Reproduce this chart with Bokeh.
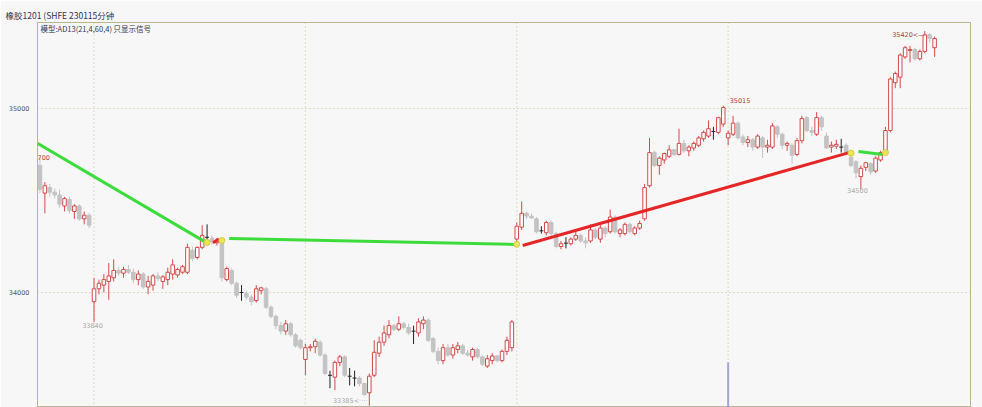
from bokeh.plotting import figure
from bokeh.models import Span, Label, FixedTicker, ColumnDataSource, Range1d
from bokeh.embed import file_html
from bokeh.resources import INLINE

# ---------------- data ----------------
opens = [
    34690, 34540, 34570, 34545, 34530, 34470, 34505, 34440, 34470, 34400,
    34420, 33950, 34020, 34040, 34060, 34080, 34120, 34105, 34125, 34110,
    34070, 34100, 34030, 34040, 34090, 34060, 34070, 34100, 34095, 34110,
    34110, 34230, 34190, 34245, 34300, 34295, 34270, 34280, 34070, 34120,
    34050, 34000, 33995, 33975, 33956, 34010, 34020, 33920, 33870, 33820,
    33790, 33830, 33770, 33740, 33636, 33700, 33705, 33730, 33660, 33550,
    33540, 33620, 33650, 33545, 33535, 33535, 33505, 33455, 33550, 33670,
    33730, 33770, 33820, 33800, 33830, 33810, 33790, 33780, 33830, 33850,
    33750, 33680, 33630, 33700, 33660, 33690, 33710, 33670, 33650, 33690,
    33650, 33600, 33630, 33655, 33630, 33680, 33700, 34290, 34355, 34430,
    34415, 34400, 34335, 34325, 34380, 34320, 34250, 34268, 34265, 34290,
    34310, 34280, 34280, 34340, 34290, 34350, 34330, 34410, 34320, 34320,
    34370, 34320, 34350, 34400, 34580, 34760, 34690, 34720, 34740, 34775,
    34750, 34810, 34770, 34785, 34800, 34835, 34850, 34875, 34870, 34915,
    34840, 34860, 34920, 34845, 34815, 34830, 34790, 34840, 34790, 34790,
    34900, 34860, 34800, 34800, 34750, 34825, 34950, 34880, 34860, 34950,
    34850, 34790, 34795, 34790, 34800, 34735, 34710, 34630, 34680, 34700,
    34660, 34720, 34760, 34880, 35140, 35170, 35280, 35315, 35320, 35270,
    35310, 35400, 35330,
]
highs = [
    34730, 34600, 34590, 34565, 34560, 34520, 34520, 34480, 34480, 34440,
    34430, 34080, 34070, 34100, 34160, 34180, 34140, 34140, 34150, 34130,
    34120, 34110, 34090, 34100, 34110, 34095, 34135, 34180, 34135, 34150,
    34265, 34250, 34250, 34365, 34370, 34310, 34295, 34295, 34140, 34130,
    34060, 34040, 34010, 33990, 34040, 34030, 34030, 33930, 33880, 33840,
    33850, 33840, 33780, 33750, 33720, 33720, 33750, 33740, 33670, 33575,
    33630, 33660, 33660, 33590, 33575, 33545, 33510, 33560, 33740, 33760,
    33820, 33850, 33830, 33870, 33840, 33830, 33820, 33860, 33870, 33860,
    33760, 33700, 33720, 33720, 33720, 33730, 33720, 33690, 33700, 33700,
    33660, 33660, 33670, 33660, 33690, 33760, 33850, 34380, 34495, 34440,
    34430, 34410, 34360, 34390, 34390, 34330, 34280, 34300, 34300, 34330,
    34320, 34300, 34370, 34350, 34370, 34360, 34450, 34420, 34350, 34380,
    34380, 34360, 34390, 34590, 34840, 34770, 34740, 34760, 34800, 34780,
    34890, 34830, 34800, 34820, 34850, 34880, 34935, 34900, 34955, 35015,
    34880, 34960, 34930, 34860, 34850, 34840, 34860, 34850, 34830, 34920,
    34910, 34870, 34820, 34810, 34840, 34960, 34960, 34900, 34980, 34960,
    34870, 34820, 34830, 34835, 34810, 34740, 34720, 34690, 34710, 34710,
    34740, 34770, 34900, 35170, 35200, 35300, 35340, 35340, 35330, 35320,
    35420, 35410, 35390,
]
lows = [
    34540, 34430, 34520, 34510, 34460, 34440, 34430, 34400, 34390, 34370,
    34350, 33840, 33990, 34000, 33960, 34060, 34090, 34080, 34100, 34050,
    34040, 34020, 33990, 34010, 34060, 34020, 34040, 34070, 34080, 34100,
    34100, 34170, 34180, 34235, 34270, 34260, 34255, 34060, 34060, 34040,
    33970, 33955, 33960, 33930, 33945, 33990, 33910, 33860, 33800, 33770,
    33770, 33760, 33700, 33690, 33550, 33680, 33670, 33650, 33550, 33480,
    33470, 33600, 33540, 33495, 33490, 33490, 33440, 33385, 33540, 33650,
    33710, 33750, 33790, 33790, 33800, 33770, 33720, 33760, 33800, 33730,
    33670, 33610, 33610, 33650, 33640, 33670, 33660, 33650, 33630, 33640,
    33600, 33590, 33610, 33620, 33620, 33660, 33680, 34260, 34340, 34400,
    34400, 34320, 34320, 34310, 34310, 34240, 34235, 34240, 34255, 34280,
    34270, 34240, 34270, 34290, 34270, 34300, 34320, 34320, 34300, 34310,
    34320, 34310, 34340, 34390, 34570, 34680, 34640, 34700, 34730, 34740,
    34745, 34760, 34740, 34770, 34790, 34820, 34840, 34830, 34860, 34900,
    34800, 34850, 34830, 34800, 34790, 34770, 34780, 34730, 34760, 34780,
    34840, 34780, 34770, 34700, 34740, 34810, 34870, 34850, 34850, 34880,
    34780, 34760, 34780, 34760, 34750, 34680, 34620, 34560, 34660, 34640,
    34650, 34710, 34750, 34870, 35110, 35110, 35270, 35250, 35260, 35260,
    35300, 35360, 35280,
]
closes = [
    34560, 34580, 34545, 34530, 34480, 34510, 34445, 34470, 34400, 34420,
    34365, 34020, 34050, 34070, 34090, 34120, 34105, 34125, 34110, 34070,
    34100, 34030, 34060, 34090, 34075, 34085, 34110, 34150, 34125, 34140,
    34245, 34185, 34245, 34310, 34300, 34275, 34285, 34080, 34130, 34050,
    33985, 34000, 33975, 33950, 34020, 34025, 33920, 33870, 33820, 33790,
    33830, 33770, 33710, 33700, 33700, 33705, 33735, 33660, 33560, 33550,
    33620, 33650, 33550, 33545, 33535, 33505, 33445, 33545, 33675, 33730,
    33780, 33820, 33800, 33830, 33810, 33780, 33790, 33840, 33850, 33740,
    33680, 33630, 33700, 33660, 33700, 33710, 33670, 33660, 33690, 33650,
    33610, 33640, 33655, 33630, 33680, 33740, 33840, 34360, 34430, 34415,
    34405, 34330, 34335, 34380, 34320, 34250, 34265, 34268, 34290, 34310,
    34280, 34270, 34340, 34300, 34350, 34320, 34410, 34330, 34340, 34370,
    34330, 34350, 34375, 34570, 34760, 34690, 34730, 34755, 34775, 34750,
    34810, 34770, 34790, 34810, 34840, 34870, 34890, 34875, 34950, 35005,
    34865, 34920, 34840, 34815, 34830, 34790, 34850, 34790, 34800, 34905,
    34860, 34800, 34810, 34745, 34825, 34945, 34880, 34870, 34950, 34900,
    34785, 34800, 34805, 34790, 34760, 34690, 34650, 34675, 34705, 34655,
    34730, 34760, 34880, 35160, 35190, 35290, 35330, 35320, 35270, 35310,
    35400, 35380, 35380,
]

price_ticks = [34000, 35000]
grid_bars = [11, 54, 97, 140]

# signal points (yellow dots) and the signal lines between them
sig_x = [34, 37, 97, 165, 172]
sig_y = [34272, 34283, 34262, 34757, 34760]
seg_kind = ["down", "up", "down", "up", "down"]
seg_x0 = [-0.5, 35.2, 38.5, 98.2, 166.5]
seg_y0 = [34810, 34270, 34293, 34255, 34766]
seg_x1 = [33.6, 36.4, 96.6, 164.6, 171.4]
seg_y1 = [34275, 34290, 34261, 34760, 34750]

# volume-like marker
vol_x = [140]
vol_top = [33620]

# price annotations
note_text = ["700", "33840", "35015", "34500", "35420<\u2014", "33385<\u00b7\u00b7\u00b7\u00b7"]
note_x = [-0.5, 10.7, 140.3, 166.3, 180.0, 66.6]
note_y = [34734, 33820, 35043, 34554, 35397, 33408]
note_kind = ["high", "low", "high", "low", "high", "low"]
note_align = ["left", "center", "left", "center", "right", "right"]

title_text = "橡胶1201 (SHFE 230115分钟"
model_text = "模型:AD13(21,4,60,4) 只显示信号"

# ---------------- figure ----------------
BG = "#f7f7f7"
UP = "#d24a4a"
DOWN = "#c3c3c3"
DOJI = "#222222"
GRID = "#c4c08c"

p = figure(width=982, height=407,
           x_range=Range1d(-0.5, 189.3), y_range=Range1d(33375, 35467),
           output_backend="svg", toolbar_location=None,
           x_axis_location=None, y_axis_location="left",
           min_border_left=37, min_border_right=12,
           min_border_top=22, min_border_bottom=0,
           background_fill_color=BG, border_fill_color=BG,
           outline_line_color="#b8b48e", outline_line_width=1)
p.grid.visible = False

p.title.text = title_text
p.title.text_font = "Noto Sans CJK SC"
p.title.text_font_size = "8.5px"
p.title.text_font_style = "normal"
p.title.text_color = "#333355"
p.title.align = "left"
p.title.offset = -32
p.title.standoff = 3

yax = p.yaxis[0]
yax.ticker = FixedTicker(ticks=price_ticks)
yax.axis_line_color = None
yax.major_tick_line_color = None
yax.minor_tick_line_color = None
yax.major_label_text_font_size = "6.5px"
yax.major_label_text_font = "DejaVu Sans"
yax.major_label_text_color = "#555555"
yax.major_label_standoff = 2

for v in price_ticks:
    p.add_layout(Span(location=v, dimension="width", line_color=GRID,
                      line_dash="1 3", line_width=1, level="underlay"))
for v in grid_bars:
    p.add_layout(Span(location=v, dimension="height", line_color=GRID,
                      line_dash="1 3", line_width=1, level="underlay"))

# volume marker
p.segment(x0=vol_x, y0=vol_top, x1=vol_x, y1=[33300] * len(vol_x),
          line_color="#a4a4d4", line_width=2)

# candles
idx = list(range(len(opens)))
up = [i for i in idx if closes[i] > opens[i]]
dn = [i for i in idx if closes[i] < opens[i]]
dj = [i for i in idx if closes[i] == opens[i]]

def src(ids):
    return ColumnDataSource(dict(
        x=ids,
        o=[opens[i] for i in ids], h=[highs[i] for i in ids],
        l=[lows[i] for i in ids], c=[closes[i] for i in ids],
        x0=[i - 0.4 for i in ids], x1=[i + 0.4 for i in ids]))

s_up, s_dn, s_dj = src(up), src(dn), src(dj)
W = 0.72
p.segment(x0="x", y0="l", x1="x", y1="h", source=s_dn, line_color=DOWN, line_width=1)
p.vbar(x="x", width=W, top="o", bottom="c", source=s_dn,
       fill_color=DOWN, line_color=DOWN, line_width=1)
p.segment(x0="x", y0="l", x1="x", y1="h", source=s_up, line_color=UP, line_width=1)
p.vbar(x="x", width=W, top="c", bottom="o", source=s_up,
       fill_color="#ffffff", line_color=UP, line_width=1)
p.segment(x0="x", y0="l", x1="x", y1="h", source=s_dj, line_color=DOJI, line_width=1)
p.segment(x0="x0", y0="o", x1="x1", y1="c", source=s_dj, line_color=DOJI, line_width=1)

# signal lines
for k, x0, y0, x1, y1 in zip(seg_kind, seg_x0, seg_y0, seg_x1, seg_y1):
    col = "#3ddc3d" if k == "down" else "#e42626"
    p.line([x0, x1], [y0, y1], line_color=col, line_width=3)

p.scatter(sig_x, sig_y, size=6, fill_color="#ece45a", line_color="#d4cc44",
          line_width=1)

# notes
for t, x, y, k, a in zip(note_text, note_x, note_y, note_kind, note_align):
    p.add_layout(Label(x=x, y=y, text=t, text_align=a, text_baseline="middle",
                       text_font="DejaVu Sans", text_font_size="6.5px",
                       text_color="#a83a3a" if k == "high" else "#a8a8a8"))

p.add_layout(Label(x=-0.5, y=35435, x_offset=3, text=model_text,
                   text_baseline="middle", text_font="Noto Sans CJK SC",
                   text_font_size="7.5px", text_color="#333355"))

open("out.html", "w").write(file_html(p, INLINE))
